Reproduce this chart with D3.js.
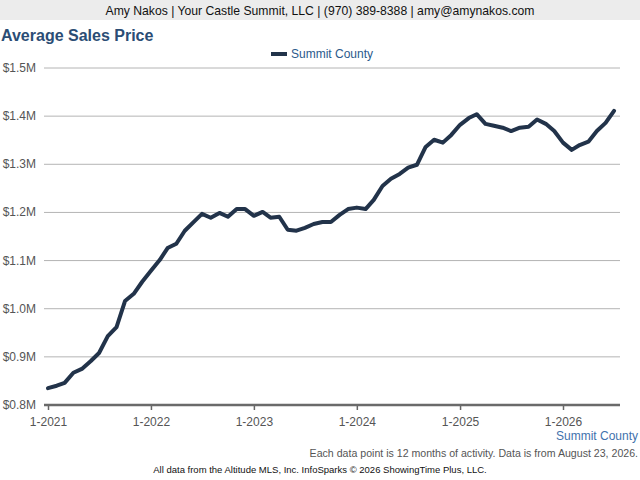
<!DOCTYPE html>
<html>
<head>
<meta charset="utf-8">
<script src="https://cdn.jsdelivr.net/npm/d3@7"></script>
<style>
  body { margin: 0; background: #fff; }
  svg { display: block; font-family: "Liberation Sans", Arial, sans-serif; }
</style>
</head>
<body>
<svg id="chart" width="640" height="480"></svg>
<script>
// Monthly points, Jan 2021 .. Jul 2026 (12-month rolling average sales price, $M)
const startYear = 2021;
const prices = [
  0.835, 0.840, 0.846, 0.867, 0.875, 0.891, 0.908, 0.943, 0.962, 1.016, 1.031, 1.056,
  1.079, 1.101, 1.126, 1.135, 1.162, 1.180, 1.197, 1.189, 1.199, 1.191, 1.207, 1.207,
  1.193, 1.201, 1.189, 1.191, 1.164, 1.162, 1.168, 1.176, 1.180, 1.180, 1.195, 1.207,
  1.210, 1.207, 1.226, 1.255, 1.270, 1.280, 1.293, 1.299, 1.336, 1.351, 1.345, 1.361,
  1.382, 1.396, 1.404, 1.384, 1.380, 1.376, 1.369, 1.376, 1.378, 1.393, 1.384, 1.369,
  1.345, 1.330, 1.340, 1.347, 1.369, 1.386, 1.411
];
const yTicks = [0.8, 0.9, 1.0, 1.1, 1.2, 1.3, 1.4, 1.5];
const xTickYears = [2021, 2022, 2023, 2024, 2025, 2026];
const seriesName = 'Summit County';

const svg = d3.select('#chart');
const W = 640;

// header bar
svg.append('rect').attr('x', 0).attr('y', 0).attr('width', W).attr('height', 20).attr('fill', '#ececec');
svg.append('text').attr('x', W / 2).attr('y', 15).attr('text-anchor', 'middle')
  .attr('font-size', 12.2).attr('fill', '#111')
  .text('Amy Nakos | Your Castle Summit, LLC | (970) 389-8388 | amy@amynakos.com');

svg.append('text').attr('x', 1).attr('y', 41)
  .attr('font-size', 16).attr('font-weight', 'bold').attr('fill', '#2b4d75')
  .text('Average Sales Price');

// legend
svg.append('line').attr('x1', 271).attr('x2', 287).attr('y1', 54).attr('y2', 54)
  .attr('stroke', '#22334a').attr('stroke-width', 4);
svg.append('text').attr('x', 291).attr('y', 58).attr('font-size', 12).attr('fill', '#2b5a8c')
  .text(seriesName);

const dates = prices.map((_, i) => new Date(startYear, i, 1));

const x = d3.scaleTime()
  .domain([new Date(2021, 0, 1), new Date(2026, 0, 1)])
  .range([48, 563]);
const y = d3.scaleLinear().domain([0.8, 1.5]).range([405, 68]);

// gridlines + y labels
const grid = svg.append('g');
grid.selectAll('line').data(yTicks.filter(t => t > 0.8)).join('line')
  .attr('x1', 44).attr('x2', 620)
  .attr('y1', d => y(d)).attr('y2', d => y(d))
  .attr('stroke', '#b4b4b4').attr('stroke-width', 1);
grid.selectAll('text').data(yTicks).join('text')
  .attr('x', 36).attr('y', d => y(d) + 4).attr('text-anchor', 'end')
  .attr('font-size', 12).attr('fill', '#555')
  .text(d => '$' + d.toFixed(1) + 'M');

// x axis
const xAxis = d3.axisBottom(x)
  .tickValues(xTickYears.map(yr => new Date(yr, 0, 1)))
  .tickFormat(d => '1-' + d.getFullYear())
  .tickSize(5).tickSizeOuter(0);
const gx = svg.append('g').attr('transform', `translate(0,${y(0.8)})`).call(xAxis);
gx.select('.domain').remove();
gx.selectAll('.tick line').attr('stroke', '#666').attr('stroke-width', 1.5);
gx.selectAll('.tick text').attr('font-size', 12).attr('fill', '#555').attr('dy', '1.1em')
  .attr('font-family', '"Liberation Sans", Arial, sans-serif');
svg.append('line').attr('x1', 44).attr('x2', 620).attr('y1', y(0.8)).attr('y2', y(0.8))
  .attr('stroke', '#6a6a6a').attr('stroke-width', 2.5);

// series line
const line = d3.line().x((d, i) => x(dates[i])).y(d => y(d));
svg.append('path').datum(prices)
  .attr('d', line)
  .attr('fill', 'none').attr('stroke', '#22334a').attr('stroke-width', 4)
  .attr('stroke-linejoin', 'round').attr('stroke-linecap', 'round');

// footer
svg.append('text').attr('x', 638).attr('y', 440).attr('text-anchor', 'end')
  .attr('font-size', 12).attr('fill', '#3f72ad').text(seriesName);
svg.append('text').attr('x', 638).attr('y', 457).attr('text-anchor', 'end')
  .attr('font-size', 10.6).attr('fill', '#555')
  .text('Each data point is 12 months of activity. Data is from August 23, 2026.');
svg.append('text').attr('x', 320).attr('y', 473).attr('text-anchor', 'middle')
  .attr('font-size', 9.5).attr('fill', '#111')
  .text('All data from the Altitude MLS, Inc. InfoSparks \u00a9 2026 ShowingTime Plus, LLC.');
</script>
</body>
</html>
